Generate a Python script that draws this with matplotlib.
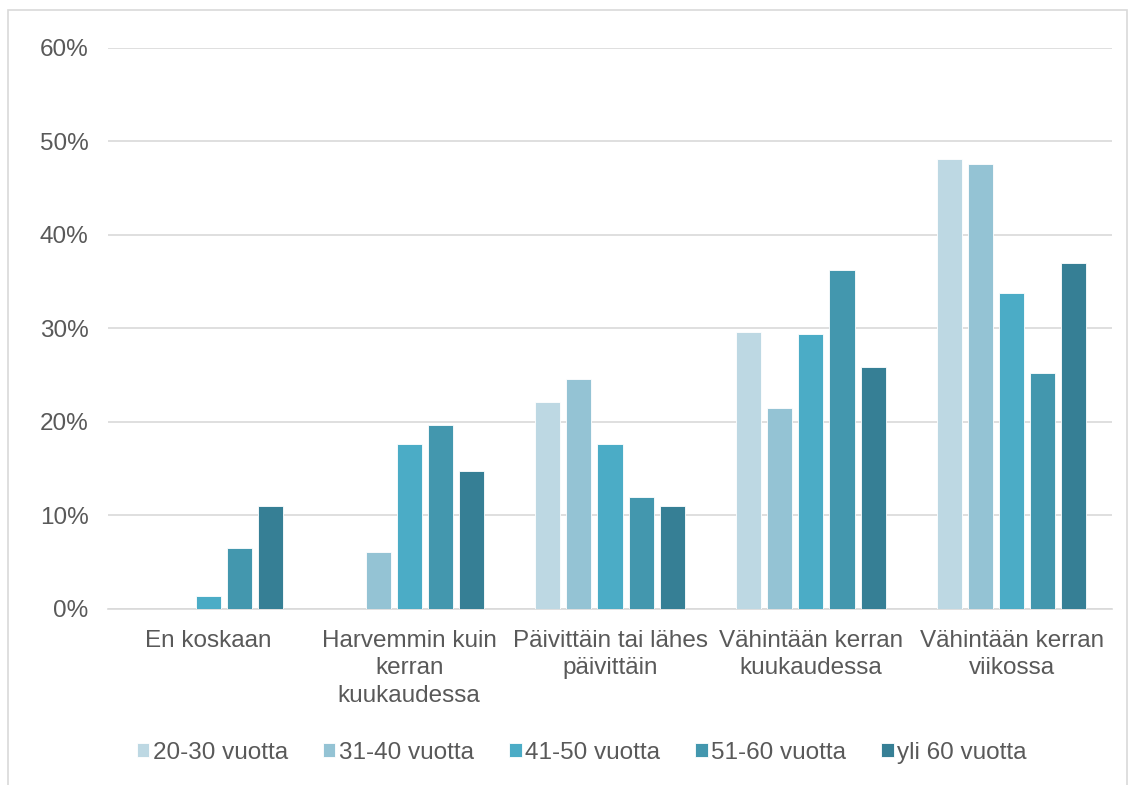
import numpy as np
import matplotlib.pyplot as plt
from matplotlib.patches import Rectangle

plt.rcParams['font.family'] = ['Liberation Sans', 'DejaVu Sans']

categories = ["En koskaan", "Harvemmin kuin\nkerran\nkuukaudessa",
              "Päivittäin tai lähes\npäivittäin", "Vähintään kerran\nkuukaudessa",
              "Vähintään kerran\nviikossa"]
series = ["20-30 vuotta", "31-40 vuotta", "41-50 vuotta", "51-60 vuotta", "yli 60 vuotta"]
v_20_30 = [0.0, 0.0, 22.1, 29.6, 48.1]
v_31_40 = [0.0, 6.1, 24.6, 21.5, 47.6]
v_41_50 = [1.4, 17.6, 17.6, 29.4, 33.8]
v_51_60 = [6.5, 19.7, 12.0, 36.2, 25.2]
v_yli_60 = [11.0, 14.7, 11.0, 25.9, 37.0]
values = [v_20_30, v_31_40, v_41_50, v_51_60, v_yli_60]
colors = ["#BDD8E3", "#94C3D4", "#4BACC6", "#4397AE", "#367F95"]

text_col = "#595959"
fs = 17.5

fig = plt.figure(figsize=(11.3, 7.85), dpi=100)
ax = fig.add_axes([0.0956, 0.2246, 0.8885, 0.7143])

x = np.arange(len(categories))
pitch = 0.155
width = 0.125
for i, (name, vals, c) in enumerate(zip(series, values, colors)):
    ax.bar(x + (i - 2) * pitch, np.array(vals) / 100, width, color=c,
           edgecolor="white", linewidth=0.6, label=name, zorder=3)

ax.set_xlim(-0.5, len(categories) - 0.5)
ax.set_ylim(0, 0.6)
ax.set_yticks(np.arange(0, 0.61, 0.1))
ax.set_yticklabels([f"{int(round(t * 100))}%" for t in np.arange(0, 0.61, 0.1)])
ax.yaxis.grid(True, color="#D9D9D9", linewidth=1.2, zorder=0)
ax.set_xticks(x)
ax.set_xticklabels(categories, linespacing=1.35)
ax.tick_params(axis="both", length=0, colors=text_col, labelsize=fs)
ax.tick_params(axis="x", pad=15)
ax.tick_params(axis="y", pad=14)
for s in ["top", "right", "left"]:
    ax.spines[s].set_visible(False)
ax.spines["bottom"].set_color("#D9D9D9")
ax.spines["bottom"].set_linewidth(1.2)

leg = fig.legend(loc="center", bbox_to_anchor=(0.515, 0.041), ncol=5, frameon=False,
                 fontsize=fs, handlelength=0.5, handleheight=0.5,
                 handletextpad=0.15, columnspacing=1.45)
for t in leg.get_texts():
    t.set_color(text_col)

# chart frame
fig.patches.append(Rectangle((8 / 1130, -0.1), 1119 / 1130, 1.1 - 10 / 785,
                             transform=fig.transFigure, fill=False,
                             edgecolor="#D9D9D9", linewidth=1.2))

fig.savefig("out.png", dpi=100)
